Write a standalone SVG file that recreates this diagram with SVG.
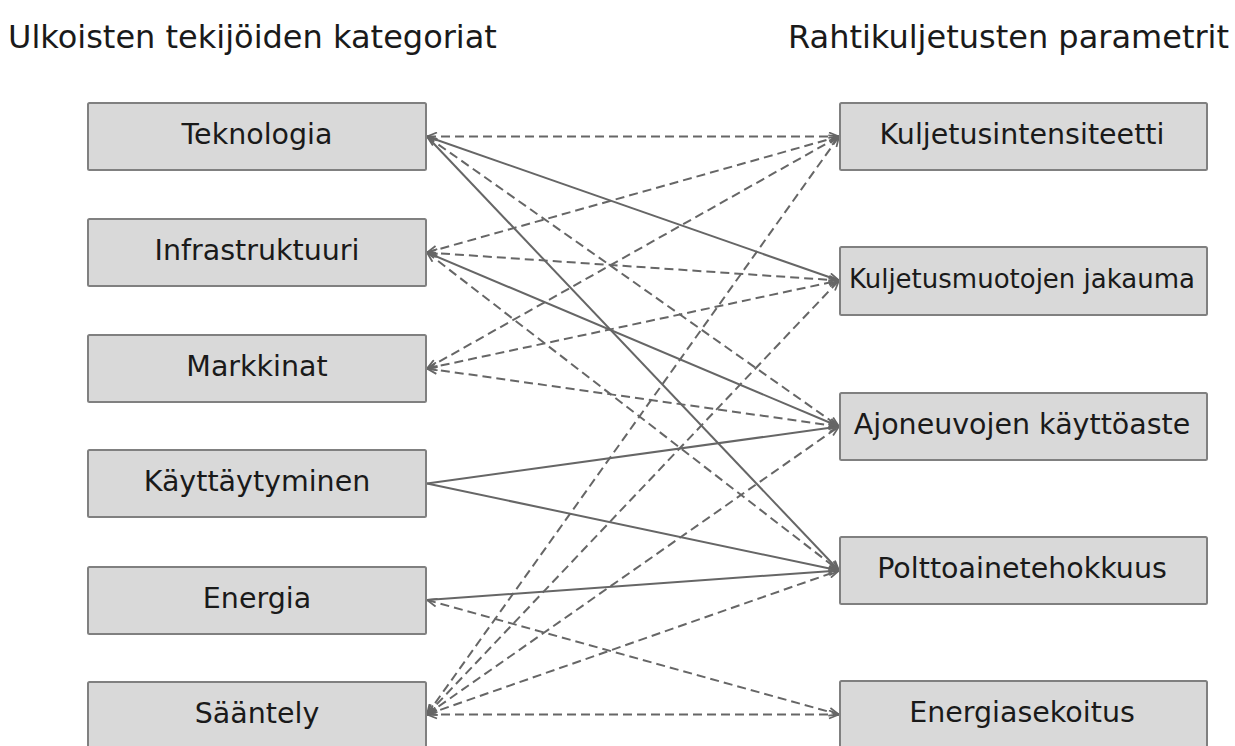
<svg xmlns="http://www.w3.org/2000/svg" width="1235" height="746" viewBox="0 0 1235 746">
  <defs>
    <style>
      .title { font-family: "DejaVu Sans", sans-serif; font-size: 32px; fill: #1a1a1a; }
      .box { fill: #d9d9d9; stroke: #808080; stroke-width: 2; }
      .lbl { font-family: "DejaVu Sans", sans-serif; font-size: 28.5px; fill: #1a1a1a; text-anchor: middle; }
      .edge { stroke: #666666; stroke-width: 2; fill: none; }
      .solid { marker-end: url(#arr); }
      .dash { stroke-dasharray: 9 5; marker-start: url(#arr); marker-end: url(#arr); }
    </style>
    <marker id="arr" viewBox="0 0 12 10" refX="11" refY="5" markerWidth="12" markerHeight="10" markerUnits="userSpaceOnUse" orient="auto-start-reverse">
      <path d="M1,1 L11,5 L1,9" fill="none" stroke="#666666" stroke-width="1.8"/>
    </marker>
  </defs>
  <rect width="1235" height="746" fill="#ffffff"/>

  <text class="title" x="8" y="48">Ulkoisten tekijöiden kategoriat</text>
  <text class="title" x="788" y="48">Rahtikuljetusten parametrit</text>

  <g id="connectors">
    <!-- Teknologia -->
    <line class="edge dash" x1="427" y1="136.5" x2="839" y2="136.5"/>
    <line class="edge solid" x1="427" y1="136.5" x2="839" y2="280.5"/>
    <line class="edge dash" x1="427" y1="136.5" x2="839" y2="426.5"/>
    <line class="edge solid" x1="427" y1="136.5" x2="839" y2="570.5"/>
    <!-- Infrastruktuuri -->
    <line class="edge dash" x1="427" y1="252.5" x2="839" y2="136.5"/>
    <line class="edge dash" x1="427" y1="252.5" x2="839" y2="280.5"/>
    <line class="edge solid" x1="427" y1="252.5" x2="839" y2="426.5"/>
    <line class="edge dash" x1="427" y1="252.5" x2="839" y2="570.5"/>
    <!-- Markkinat -->
    <line class="edge dash" x1="427" y1="368.5" x2="839" y2="136.5"/>
    <line class="edge dash" x1="427" y1="368.5" x2="839" y2="280.5"/>
    <line class="edge dash" x1="427" y1="368.5" x2="839" y2="426.5"/>
    <!-- Käyttäytyminen -->
    <line class="edge solid" x1="427" y1="483.5" x2="839" y2="426.5"/>
    <line class="edge solid" x1="427" y1="483.5" x2="839" y2="570.5"/>
    <!-- Energia -->
    <line class="edge solid" x1="427" y1="600" x2="839" y2="570.5"/>
    <line class="edge dash" x1="427" y1="600" x2="839" y2="714.5"/>
    <!-- Sääntely -->
    <line class="edge dash" x1="427" y1="714.5" x2="839" y2="136.5"/>
    <line class="edge dash" x1="427" y1="714.5" x2="839" y2="280.5"/>
    <line class="edge dash" x1="427" y1="714.5" x2="839" y2="426.5"/>
    <line class="edge dash" x1="427" y1="714.5" x2="839" y2="570.5"/>
    <line class="edge dash" x1="427" y1="714.5" x2="839" y2="714.5"/>
  </g>

  <g id="n-teknologia">
    <rect class="box" x="88" y="103" width="338" height="67" rx="1.5"/>
    <text class="lbl" x="257" y="144">Teknologia</text>
  </g>
  <g id="n-infrastruktuuri">
    <rect class="box" x="88" y="219" width="338" height="67" rx="1.5"/>
    <text class="lbl" x="257" y="260">Infrastruktuuri</text>
  </g>
  <g id="n-markkinat">
    <rect class="box" x="88" y="335" width="338" height="67" rx="1.5"/>
    <text class="lbl" x="257" y="376">Markkinat</text>
  </g>
  <g id="n-kayttaytyminen">
    <rect class="box" x="88" y="450" width="338" height="67" rx="1.5"/>
    <text class="lbl" x="257" y="491">Käyttäytyminen</text>
  </g>
  <g id="n-energia">
    <rect class="box" x="88" y="567" width="338" height="67" rx="1.5"/>
    <text class="lbl" x="257" y="608">Energia</text>
  </g>
  <g id="n-saantely">
    <rect class="box" x="88" y="682" width="338" height="67" rx="1.5"/>
    <text class="lbl" x="257" y="723">Sääntely</text>
  </g>

  <g id="n-kuljetusintensiteetti">
    <rect class="box" x="840" y="103" width="367" height="67" rx="1.5"/>
    <text class="lbl" x="1022" y="144">Kuljetusintensiteetti</text>
  </g>
  <g id="n-kuljetusmuotojen-jakauma">
    <rect class="box" x="840" y="247" width="367" height="68" rx="1.5"/>
    <text class="lbl" x="1022" y="288" style="font-size:26px">Kuljetusmuotojen jakauma</text>
  </g>
  <g id="n-ajoneuvojen-kayttoaste">
    <rect class="box" x="840" y="393" width="367" height="67" rx="1.5"/>
    <text class="lbl" x="1022" y="434">Ajoneuvojen käyttöaste</text>
  </g>
  <g id="n-polttoainetehokkuus">
    <rect class="box" x="840" y="537" width="367" height="67" rx="1.5"/>
    <text class="lbl" x="1022" y="578">Polttoainetehokkuus</text>
  </g>
  <g id="n-energiasekoitus">
    <rect class="box" x="840" y="681" width="367" height="67" rx="1.5"/>
    <text class="lbl" x="1022" y="722">Energiasekoitus</text>
  </g>
</svg>
